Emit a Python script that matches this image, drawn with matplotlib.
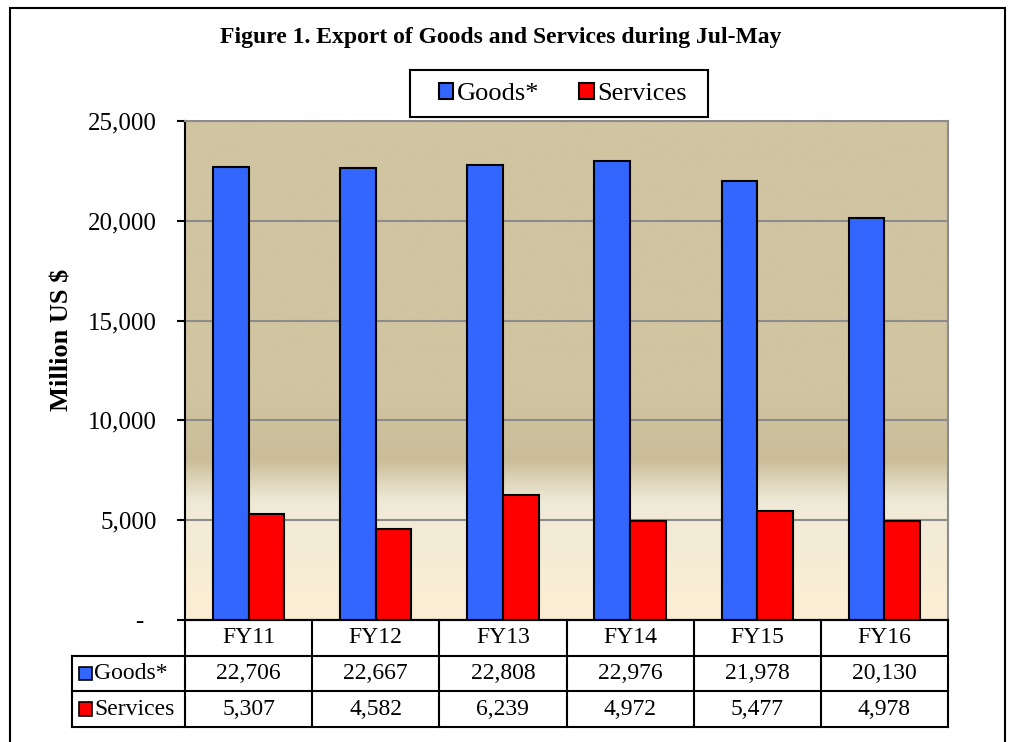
import numpy as np
import matplotlib
matplotlib.use("Agg")
import matplotlib.pyplot as plt
from matplotlib.colors import LinearSegmentedColormap
from matplotlib.patches import Rectangle
from matplotlib.ticker import FuncFormatter

categories = ["FY11", "FY12", "FY13", "FY14", "FY15", "FY16"]
goods = [22706, 22667, 22808, 22976, 21978, 20130]
services = [5307, 4582, 6239, 4972, 5477, 4978]
series_names = ["Goods*", "Services"]
title = "Figure 1. Export of Goods and Services during Jul-May"
ylabel = "Million US $"

BLUE = "#3366FF"
RED = "#FF0000"
SERIF = ["Liberation Serif", "DejaVu Serif"]
plt.rcParams["font.family"] = SERIF

W, H = 1018, 742
fig = plt.figure(figsize=(W / 100, H / 100), dpi=100)

def fr(l, t, r, b):
    return [l / W, 1 - b / H, (r - l) / W, (b - t) / H]

# outer border
fig.patches.append(Rectangle((10 / W, -0.01), (1005 - 10) / W, 1 - 8 / H + 0.01,
                             transform=fig.transFigure, fill=False, edgecolor="black",
                             linewidth=1.5))

ax = fig.add_axes(fr(185, 121, 948, 620))
x = np.arange(len(categories))
bw = 0.28
ax.set_xlim(-0.5, len(categories) - 0.5)
ax.set_ylim(0, 25000)

# gradient background
stops = [(0.0, "#FCEED3"), (0.12, "#F6ECD5"), (0.235, "#EFEAD8"), (0.28, "#DDD4B8"),
         (0.32, "#CABD98"), (0.45, "#D0C4A1"), (1.0, "#D0C4A1")]
cmap = LinearSegmentedColormap.from_list("bg", stops)
grad = np.linspace(0, 1, 512).reshape(-1, 1)
ax.imshow(grad, cmap=cmap, aspect="auto", origin="lower",
          extent=(-0.5, len(categories) - 0.5, 0, 25000), zorder=0)

ax.yaxis.grid(True, color="#8C8C8C", linewidth=1.5, zorder=1)
ax.set_axisbelow(True)
b1 = ax.bar(x - bw / 2, goods, bw, color=BLUE, edgecolor="black", linewidth=1.5, zorder=3,
            label=series_names[0])
b2 = ax.bar(x + bw / 2, services, bw, color=RED, edgecolor="black", linewidth=1.5, zorder=3,
            label=series_names[1])

ax.set_yticks(np.arange(0, 25001, 5000))
ax.yaxis.set_major_formatter(FuncFormatter(lambda v, p: "-  " if v == 0 else f"{int(v):,}"))
ax.tick_params(axis="y", direction="out", length=6, width=1.5, labelsize=18, pad=14)
ax.set_xticks([])
for s in ["top", "right"]:
    ax.spines[s].set_color("#8C8C8C")
    ax.spines[s].set_linewidth(1.5)
for s in ["left", "bottom"]:
    ax.spines[s].set_color("black")
    ax.spines[s].set_linewidth(1.5)
for lab in ax.get_yticklabels():
    lab.set_fontfamily(SERIF)

fig.text(62 / W, 1 - 340 / H, ylabel, rotation=90, ha="center", va="center",
         fontsize=19, fontweight="bold", family=SERIF)
fig.text(501 / W, 1 - 37 / H, title, ha="center", va="center", fontsize=17,
         fontweight="bold", family=SERIF)

# legend with a separately drawn frame
fig.patches.append(Rectangle((410 / W, 1 - 117 / H), (708 - 410) / W, 47 / H,
                             transform=fig.transFigure, facecolor="white",
                             edgecolor="black", linewidth=1.5, zorder=4))
leg = fig.legend(handles=[b1, b2], loc="center", bbox_to_anchor=(563 / W, 1 - 94 / H),
                 ncol=2, frameon=False,
                 prop={"family": SERIF, "size": 19}, handlelength=0.55, handleheight=0.6,
                 handletextpad=0.15, columnspacing=1.5, borderpad=0.45)
leg.set_zorder(5)

# data table
tx = fig.add_axes(fr(72, 620, 948, 727))
left = -0.5 - 113 / (763 / 6)
tx.set_xlim(left, len(categories) - 0.5)
tx.set_ylim(3, 0)
tx.axis("off")
lw = 1.5
FS = 17
tx.plot([-0.5, len(categories) - 0.5], [0, 0], color="black", lw=lw, clip_on=False)
for yy in [1, 2, 3]:
    tx.plot([left, len(categories) - 0.5], [yy, yy], color="black", lw=lw, clip_on=False)
tx.plot([left, left], [1, 3], color="black", lw=lw, clip_on=False)
for i in range(len(categories) + 1):
    tx.plot([i - 0.5, i - 0.5], [0, 3], color="black", lw=lw, clip_on=False)
for i, c in enumerate(categories):
    tx.text(i, 0.5, c, ha="center", va="center", fontsize=FS, family=SERIF)
    tx.text(i, 1.5, f"{goods[i]:,}", ha="center", va="center", fontsize=FS, family=SERIF)
    tx.text(i, 2.5, f"{services[i]:,}", ha="center", va="center", fontsize=FS, family=SERIF)
for r, (name, col) in enumerate(zip(series_names, [BLUE, RED])):
    tx.add_patch(Rectangle((left + 7 / 127.2, 1.5 + r - 0.19), 13 / 127.2, 0.38, facecolor=col,
                           edgecolor="black", lw=1.2, clip_on=False))
    tx.text(left + 22 / 127.2, 1.5 + r, name, ha="left", va="center", fontsize=FS, family=SERIF)

fig.savefig("out.png", dpi=100)
